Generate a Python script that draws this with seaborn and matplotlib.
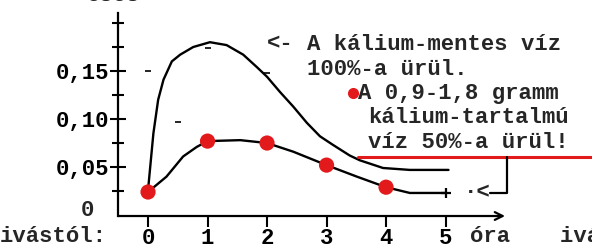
import matplotlib
matplotlib.use("Agg")
import numpy as np
import pandas as pd
import matplotlib.pyplot as plt
import seaborn as sns

# VALUES (hours after drinking, excretion)
hours_free = [0, 0.09, 0.17, 0.26, 0.4, 0.54, 0.76, 1.04, 1.32, 1.6, 1.83, 2.0,
              2.22, 2.44, 2.67, 2.89, 3.11, 3.39, 3.56, 3.95, 4.4, 5.05]
excr_free = [0.026, 0.085, 0.120, 0.141, 0.160, 0.167, 0.175, 0.180, 0.177, 0.167, 0.154, 0.144,
             0.128, 0.113, 0.096, 0.082, 0.073, 0.062, 0.057, 0.049, 0.047, 0.047]

hours_k = [0, 0.31, 0.59, 0.82, 1.0, 1.55, 2.0, 2.44, 3.0, 3.51, 4.0, 4.4, 5.0]
excr_k = [0.024, 0.040, 0.061, 0.071, 0.077, 0.078, 0.075, 0.066, 0.052, 0.040, 0.029, 0.023, 0.023]

dot_hours = [0, 1, 2, 3, 4]
dot_excr = [0.024, 0.077, 0.075, 0.052, 0.029]

# small stray grid dashes on the scan
mark_hours = [0, 1, 2, 0.5]
mark_excr = [0.15, 0.174, 0.148, 0.097]

xticks = [0, 1, 2, 3, 4, 5]
yticks = [0.05, 0.10, 0.15]
ylabels = ["0,05", "0,10", "0,15"]
yminor = [0.025, 0.075, 0.125, 0.175, 0.2]

#STYLE
sns.set_theme(style="white")
plt.rcParams['font.family'] = ['Liberation Mono', 'DejaVu Sans Mono']
plt.rcParams['font.weight'] = 'bold'
FS = 16
RED = "#e31a1c"

fig = plt.figure(figsize=(5.92, 2.48), dpi=100)
ax = fig.add_axes([0.1998, 0.129, 0.6533, 0.817])

free_df = pd.DataFrame({"ora": hours_free, "urules": excr_free})
k_df = pd.DataFrame({"ora": hours_k, "urules": excr_k})

#CURVES
sns.lineplot(data=free_df, x="ora", y="urules", color="black", lw=1.7, ax=ax)
sns.lineplot(data=k_df, x="ora", y="urules", color="black", lw=1.7, ax=ax)
sns.scatterplot(x=dot_hours, y=dot_excr, color=RED, s=120, edgecolor="none", zorder=5, ax=ax)
ax.scatter(mark_hours, mark_excr, marker="_", s=25, color="black", linewidths=1.2)
ax.plot(hours_k[-1], excr_k[-1], marker="+", color="black", ms=7, mew=1.6)

ax.set_xlim(-0.5, 6.0)
ax.set_ylim(-0.001, 0.21)
ax.set_xlabel("")
ax.set_ylabel("")

#AXES
for s in ["top", "right", "bottom"]:
    ax.spines[s].set_visible(False)
ax.spines["left"].set_color("black")
ax.spines["left"].set_linewidth(1.6)
ax.annotate("", xy=(1.0, 0), xytext=(0, 0), xycoords="axes fraction",
            arrowprops=dict(arrowstyle="->", lw=1.6, color="black", shrinkA=0, shrinkB=0,
                            mutation_scale=14))

ax.set_xticks(xticks)
ax.set_xticklabels([str(t) for t in xticks])
ax.set_yticks(yticks)
ax.set_yticklabels(ylabels)
ax.set_yticks(yminor, minor=True)
ax.tick_params(axis="x", bottom=True, direction="out", length=8, width=1.5,
               pad=0.5, labelsize=FS, colors="black")
ax.tick_params(axis="y", which="both", left=True, direction="inout", width=1.5,
               pad=1, labelsize=FS, colors="black")
ax.tick_params(axis="y", which="major", length=11)
ax.tick_params(axis="y", which="minor", length=9)
ax.text(-1.01, 0.005, "0", ha="center", va="center", fontsize=FS)

#ANNOTATIONS
ax.text(2.0, 0.178, "<-", va="center", fontsize=FS)
ax.text(2.67, 0.178, "A kálium-mentes víz", va="center", fontsize=FS)
ax.text(2.67, 0.152, "100%-a ürül.", va="center", fontsize=FS)
ax.plot(3.45, 0.127, "o", color=RED, ms=8, mec="none", clip_on=False)
ax.text(3.53, 0.127, "A 0,9-1,8 gramm", va="center", fontsize=FS)
ax.text(3.70, 0.102, "kálium-tartalmú", va="center", fontsize=FS)
ax.text(3.70, 0.076, "víz 50%-a ürül!", va="center", fontsize=FS)
ax.plot([3.53, 7.6], [0.060, 0.060], color=RED, lw=2.2, clip_on=False)
ax.text(5.3, excr_k[-1], "·<", va="center", fontsize=FS)
ax.plot([5.75, 6.03, 6.03], [excr_k[-1], excr_k[-1], 0.060], color="black", lw=1.6, clip_on=False)

fig.text(0 / 592, 1 - 237 / 248, "ivástól:", va="center", fontsize=FS)
fig.text(470 / 592, 1 - 237 / 248, "óra", va="center", fontsize=FS)
fig.text(560 / 592, 1 - 237 / 248, "ivás után", va="center", fontsize=FS)
fig.text(87 / 592, 1 - 1 / 248, "ésés", va="baseline", fontsize=FS)

fig.savefig("out.png", dpi=100)
